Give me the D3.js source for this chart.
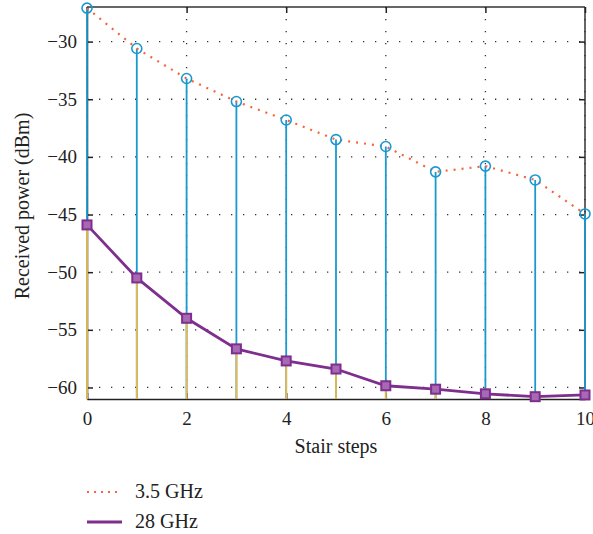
<!DOCTYPE html>
<html lang="en">
<head>
<meta charset="UTF-8">
<script src="https://cdn.jsdelivr.net/npm/d3@7"></script>
<style>
    body { margin: 0; background: #fff; }
    svg text { font-family: "Liberation Serif", "DejaVu Serif", serif; fill: #222; }
</style>
</head>
<body>
<div id="chart"></div>
<script>
    const steps = [0, 1, 2, 3, 4, 5, 6, 7, 8, 9, 10]
    const power35 = [-27.1, -30.6, -33.2, -35.2, -36.8, -38.5, -39.1, -41.3, -40.8, -42.0, -44.95]
    const power28 = [-45.9, -50.5, -54.0, -56.65, -57.7, -58.4, -59.85, -60.15, -60.55, -60.8, -60.65]
    const xTicks = [0, 2, 4, 6, 8, 10]
    const yTicks = [-30, -35, -40, -45, -50, -55, -60]
    const seriesNames = ["3.5 GHz", "28 GHz"]

    const W = 593, H = 534
    const plotLeft = 87, plotRight = 585, plotTop = 7, plotBottom = 399

    const blue = "#1a98d0", orange = "#f4663a", purple = "#7e2f8e", gold = "#edb84a"

    const x = d3.scaleLinear().domain([0, 10]).range([plotLeft, plotRight])
    const y = d3.scaleLinear().domain([-61, -27]).range([plotBottom, plotTop])

    const svg = d3.select("#chart").append("svg")
        .attr("width", W).attr("height", H)

    // dotted grid
    svg.append("g").selectAll("line").data(yTicks).enter().append("line")
        .attr("x1", plotLeft).attr("x2", plotRight)
        .attr("y1", d => y(d)).attr("y2", d => y(d))
        .attr("stroke", "#333").attr("stroke-width", 1.3)
        .attr("stroke-dasharray", "1.3,10.7")
    svg.append("g").selectAll("line").data(xTicks).enter().append("line")
        .attr("y1", plotTop).attr("y2", plotBottom)
        .attr("x1", d => x(d)).attr("x2", d => x(d))
        .attr("stroke", "#333").attr("stroke-width", 1.3)
        .attr("stroke-dasharray", "1.3,10.7")

    // box
    svg.append("line").attr("x1", plotLeft).attr("x2", plotRight).attr("y1", plotTop).attr("y2", plotTop)
        .attr("stroke", "#333").attr("stroke-width", 1.5)
    svg.append("line").attr("x1", plotRight).attr("x2", plotRight).attr("y1", plotTop).attr("y2", plotBottom)
        .attr("stroke", "#333").attr("stroke-width", 1.5)

    // axes (ticks inside)
    const xAxis = svg.append("g").attr("transform", `translate(0,${plotBottom})`)
        .call(d3.axisBottom(x).tickValues(xTicks).tickSizeInner(-6).tickSizeOuter(0).tickPadding(13))
    const yAxis = svg.append("g").attr("transform", `translate(${plotLeft},0)`)
        .call(d3.axisLeft(y).tickValues(yTicks).tickSizeInner(-6).tickSizeOuter(0).tickPadding(10)
            .tickFormat(d => "\u2212" + Math.abs(d)))
    svg.append("g").attr("transform", `translate(0,${plotTop})`)
        .call(d3.axisTop(x).tickValues(xTicks).tickSizeInner(-6).tickSizeOuter(0).tickFormat(""))
        .select(".domain").remove()
    svg.append("g").attr("transform", `translate(${plotRight},0)`)
        .call(d3.axisRight(y).tickValues(yTicks).tickSizeInner(-6).tickSizeOuter(0).tickFormat(""))
        .select(".domain").remove()

    svg.selectAll(".tick line").attr("stroke", "#222").attr("stroke-width", 1.5)
    xAxis.select(".domain").attr("stroke", "#222").attr("stroke-width", 1.5)
    yAxis.select(".domain").attr("stroke", "#222").attr("stroke-width", 1.5)
    svg.selectAll(".tick text").style("font-size", "19px")
        .style("font-family", "'Liberation Serif', serif").attr("fill", "#222")

    // stems 3.5 GHz
    svg.append("g").selectAll("line").data(steps).enter().append("line")
        .attr("x1", d => x(d)).attr("x2", d => x(d))
        .attr("y1", (d, i) => y(power35[i])).attr("y2", plotBottom)
        .attr("stroke", blue).attr("stroke-width", 1.8)
    // stems 28 GHz
    svg.append("g").selectAll("line").data(steps).enter().append("line")
        .attr("x1", d => x(d)).attr("x2", d => x(d))
        .attr("y1", (d, i) => y(power28[i])).attr("y2", plotBottom)
        .attr("stroke", gold).attr("stroke-width", 1.8)

    // 3.5 GHz dotted line
    const seriesLine = d3.line().x((d, i) => x(steps[i])).y(d => y(d))
    svg.append("path").datum(power35).attr("d", seriesLine)
        .attr("fill", "none").attr("stroke", orange).attr("stroke-width", 2.2)
        .attr("stroke-dasharray", "2,6")

    svg.append("g").selectAll("circle").data(power35).enter().append("circle")
        .attr("cx", (d, i) => x(steps[i])).attr("cy", d => y(d)).attr("r", 5)
        .attr("fill", "none").attr("stroke", blue).attr("stroke-width", 1.6)

    // 28 GHz line
    svg.append("path").datum(power28).attr("d", seriesLine)
        .attr("fill", "none").attr("stroke", purple).attr("stroke-width", 2.8)

    svg.append("g").selectAll("rect").data(power28).enter().append("rect")
        .attr("x", (d, i) => x(steps[i]) - 4.5).attr("y", d => y(d) - 4.5)
        .attr("width", 9).attr("height", 9)
        .attr("fill", "#a769b3").attr("stroke", purple).attr("stroke-width", 2)

    // axis labels
    svg.append("text").attr("x", 336).attr("y", 453)
        .attr("text-anchor", "middle").style("font-size", "20px").text("Stair steps")
    svg.append("text").attr("transform", `translate(29,206) rotate(-90)`)
        .attr("text-anchor", "middle").style("font-size", "20px").text("Received power (dBm)")

    // legend
    const legend = svg.append("g")
    const legY = [492, 522]
    legend.append("line").attr("x1", 87).attr("x2", 122).attr("y1", legY[0]).attr("y2", legY[0])
        .attr("stroke", orange).attr("stroke-width", 2.2).attr("stroke-dasharray", "2,5")
    legend.append("line").attr("x1", 87).attr("x2", 122).attr("y1", legY[1]).attr("y2", legY[1])
        .attr("stroke", purple).attr("stroke-width", 2.8)
    legend.selectAll("text").data(seriesNames).enter().append("text")
        .attr("x", 135).attr("y", (d, i) => legY[i] + 6)
        .style("font-size", "20px").text(d => d)
</script>
</body>
</html>
